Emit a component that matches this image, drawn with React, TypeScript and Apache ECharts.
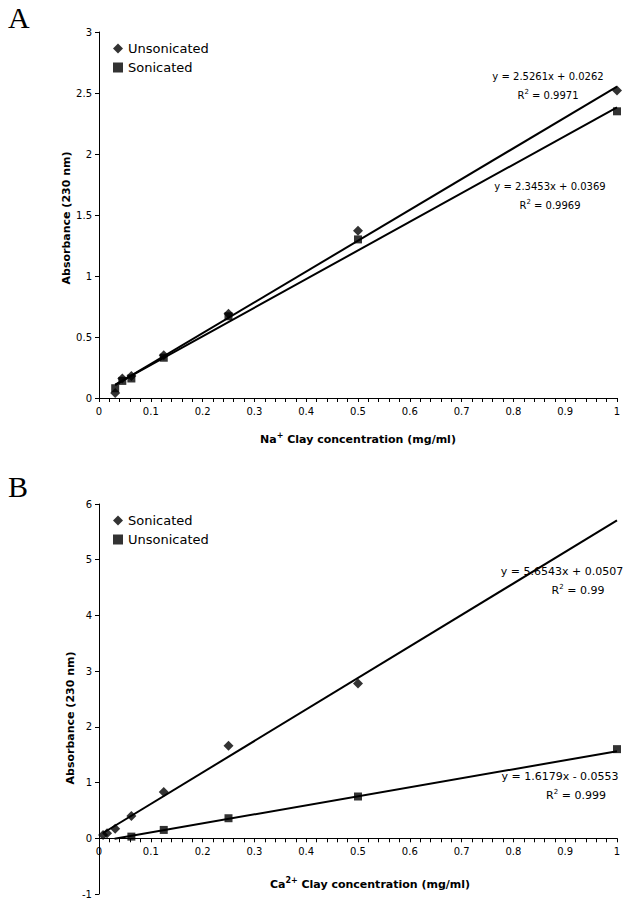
import React, { useEffect, useRef } from "react";
import * as echarts from "echarts";

// Panel A (Na+ clay)
const xA = [0.03125, 0.045, 0.0625, 0.125, 0.25, 0.5, 1];
const unsonicatedA = [0.04, 0.16, 0.18, 0.35, 0.69, 1.37, 2.52];
const sonicatedA = [0.08, 0.14, 0.16, 0.33, 0.67, 1.3, 2.35];
const fitUnsonicatedA = { slope: 2.5261, intercept: 0.0262, r2: "0.9971", range: [0.03125, 1] };
const fitSonicatedA = { slope: 2.3453, intercept: 0.0369, r2: "0.9969", range: [0.03125, 1] };

// Panel B (Ca2+ clay)
const xSonicatedB = [0.0078, 0.0156, 0.03125, 0.0625, 0.125, 0.25, 0.5];
const sonicatedB = [0.06, 0.09, 0.17, 0.4, 0.83, 1.66, 2.78];
const xUnsonicatedB = [0.0625, 0.125, 0.25, 0.5, 1];
const unsonicatedB = [0.03, 0.15, 0.36, 0.75, 1.6];
const fitSonicatedB = { slope: 5.6543, intercept: 0.0507, r2: "0.99", range: [0.0078, 1] };
const fitUnsonicatedB = { slope: 1.6179, intercept: -0.0553, r2: "0.999", range: [0.03, 1] };

const yRangeB = [-1, 6];
const FONT = "DejaVu Sans";

function pts(xs: number[], ys: number[]) {
  return xs.map((x, i) => [x, ys[i]]);
}
function fitLine(f: { slope: number; intercept: number; range: number[] }) {
  return f.range.map((x) => [x, f.slope * x + f.intercept]);
}
function eqText(f: { slope: number; intercept: number }) {
  const sign = f.intercept < 0 ? "-" : "+";
  return `y = ${f.slope.toFixed(4)}x ${sign} ${Math.abs(f.intercept).toFixed(4)}`;
}

export default function App() {
  const ref = useRef<HTMLDivElement>(null);
  useEffect(() => {
    const chart = echarts.init(ref.current!, null, { renderer: "svg" });
    const labelStyle = { color: "#000", fontFamily: FONT, fontSize: 10 };
    const xCommon = {
      type: "value",
      min: 0,
      max: 1,
      interval: 0.1,
      axisLine: { show: true, onZero: false, lineStyle: { color: "#000", width: 1 } },
      splitLine: { show: false },
      axisTick: { show: true, length: 4, lineStyle: { color: "#000" } },
      minorTick: { show: true, splitNumber: 5, length: 4, lineStyle: { color: "#000" } },
      minorSplitLine: { show: false },
      axisLabel: { ...labelStyle, margin: 8 },
    };
    const yCommon = {
      type: "value",
      axisLine: { show: true, onZero: false, lineStyle: { color: "#000", width: 1 } },
      splitLine: { show: false },
      axisTick: { show: true, length: 4, lineStyle: { color: "#000" } },
      axisLabel: { ...labelStyle, margin: 7 },
    };
    const lineStyle = { color: "#000", width: 2 };
    const eqStyle = { fontFamily: FONT, fontSize: 10, fill: "#000", textAlign: "center", textVerticalAlign: "middle" };
    const eqStyleB = { ...eqStyle, fontSize: 11 };
    const rich = { sup: { fontSize: 7, verticalAlign: "top", padding: [0, 0, 6, 0], fontFamily: FONT, fill: "#000" } };
    const r2 = (v: string) => `R{sup|2} = ${v}`;
    const titleStyle = { fontFamily: FONT, fontSize: 11, fontWeight: "bold", fill: "#000", textAlign: "center", textVerticalAlign: "middle" };
    const legendText = { fontFamily: FONT, fontSize: 13, color: "#000" };

    const gridBHeight = 390;
    // place B x-axis at y = 0 (distance from bottom = (0 - min) / (max - min) of the grid height)
    const zeroOffsetB = -((0 - yRangeB[0]) / (yRangeB[1] - yRangeB[0])) * gridBHeight;

    chart.setOption({
      animation: false,
      backgroundColor: "#fff",
      grid: [
        { left: 99, top: 32, width: 518, height: 366, outerBoundsMode: "none", containLabel: false },
        { left: 99, top: 504, width: 518, height: gridBHeight, outerBoundsMode: "none", containLabel: false },
      ],
      xAxis: [
        { ...xCommon, gridIndex: 0 },
        { ...xCommon, gridIndex: 1, position: "bottom", offset: zeroOffsetB },
      ],
      yAxis: [
        { ...yCommon, gridIndex: 0, min: 0, max: 3, interval: 0.5 },
        { ...yCommon, gridIndex: 1, min: yRangeB[0], max: yRangeB[1], interval: 1 },
      ],
      legend: [
        {
          left: 108, top: 37, orient: "vertical", itemGap: 6, itemWidth: 10, itemHeight: 10,
          textStyle: legendText,
          formatter: (n: string) => n.trim(),
          data: [
            { name: "Unsonicated", icon: "diamond" },
            { name: "Sonicated", icon: "rect" },
          ],
        },
        {
          left: 108, top: 509, orient: "vertical", itemGap: 6, itemWidth: 10, itemHeight: 10,
          textStyle: legendText,
          formatter: (n: string) => n.trim(),
          data: [
            { name: "Sonicated ", icon: "diamond" },
            { name: "Unsonicated ", icon: "rect" },
          ],
        },
      ],
      series: [
        { type: "line", xAxisIndex: 0, yAxisIndex: 0, data: fitLine(fitUnsonicatedA), showSymbol: false, lineStyle, z: 1, silent: true },
        { type: "line", xAxisIndex: 0, yAxisIndex: 0, data: fitLine(fitSonicatedA), showSymbol: false, lineStyle, z: 1, silent: true },
        { type: "line", xAxisIndex: 1, yAxisIndex: 1, data: fitLine(fitSonicatedB), showSymbol: false, lineStyle, z: 1, silent: true },
        { type: "line", xAxisIndex: 1, yAxisIndex: 1, data: fitLine(fitUnsonicatedB), showSymbol: false, lineStyle, z: 1, silent: true },
        { name: "Unsonicated", type: "scatter", xAxisIndex: 0, yAxisIndex: 0, data: pts(xA, unsonicatedA), symbol: "diamond", symbolSize: 10, itemStyle: { color: "#000" }, z: 3 },
        { name: "Sonicated", type: "scatter", xAxisIndex: 0, yAxisIndex: 0, data: pts(xA, sonicatedA), symbol: "rect", symbolSize: 8, itemStyle: { color: "#000" }, z: 3 },
        { name: "Sonicated ", type: "scatter", xAxisIndex: 1, yAxisIndex: 1, data: pts(xSonicatedB, sonicatedB), symbol: "diamond", symbolSize: 10, itemStyle: { color: "#000" }, z: 3 },
        { name: "Unsonicated ", type: "scatter", xAxisIndex: 1, yAxisIndex: 1, data: pts(xUnsonicatedB, unsonicatedB), symbol: "rect", symbolSize: 8, itemStyle: { color: "#000" }, z: 3 },
      ],
      graphic: [
        { type: "text", left: 8, top: 2, style: { text: "A", fontFamily: "Liberation Serif", fontSize: 30, fill: "#000" } },
        { type: "text", left: 8, top: 471, style: { text: "B", fontFamily: "Liberation Serif", fontSize: 30, fill: "#000" } },
        { type: "text", x: 548, y: 76, style: { ...eqStyle, text: eqText(fitUnsonicatedA) } },
        { type: "text", x: 548, y: 95, style: { ...eqStyle, text: r2(fitUnsonicatedA.r2), rich } },
        { type: "text", x: 550, y: 186, style: { ...eqStyle, text: eqText(fitSonicatedA) } },
        { type: "text", x: 550, y: 205, style: { ...eqStyle, text: r2(fitSonicatedA.r2), rich } },
        { type: "text", x: 562, y: 571, style: { ...eqStyleB, text: eqText(fitSonicatedB) } },
        { type: "text", x: 578, y: 590, style: { ...eqStyleB, text: r2(fitSonicatedB.r2), rich } },
        { type: "text", x: 560, y: 776, style: { ...eqStyleB, text: eqText(fitUnsonicatedB) } },
        { type: "text", x: 576, y: 795, style: { ...eqStyleB, text: r2(fitUnsonicatedB.r2), rich } },
        { type: "text", x: 66, y: 218, rotation: Math.PI / 2, style: { ...titleStyle, text: "Absorbance (230 nm)" } },
        { type: "text", x: 70, y: 718, rotation: Math.PI / 2, style: { ...titleStyle, text: "Absorbance (230 nm)" } },
        {
          type: "text", x: 358, y: 439,
          style: { ...titleStyle, text: "Na{s|+} Clay concentration (mg/ml)", rich: { s: { fontSize: 8, fontWeight: "bold", fontFamily: FONT, padding: [0, 0, 7, 0] } } },
        },
        {
          type: "text", x: 370, y: 884,
          style: { ...titleStyle, text: "Ca{s|2+} Clay concentration (mg/ml)", rich: { s: { fontSize: 8, fontWeight: "bold", fontFamily: FONT, padding: [0, 0, 7, 0] } } },
        },
      ],
    });
    return () => chart.dispose();
  }, []);
  return <div ref={ref} style={{ position: "absolute", left: 0, top: 0, width: 638, height: 905, background: "#fff" }} />;
}
